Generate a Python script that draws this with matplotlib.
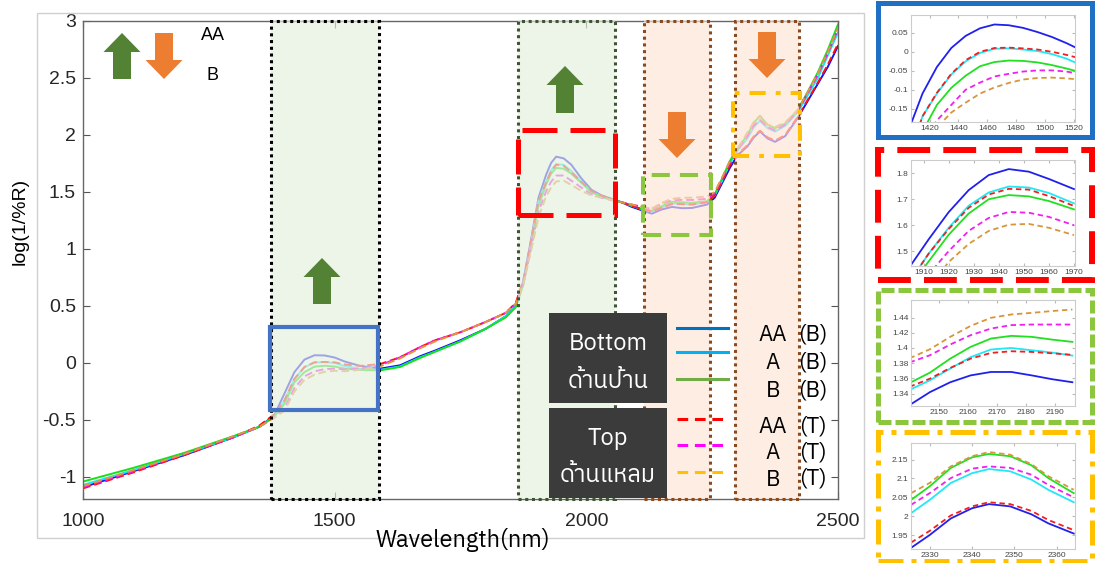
import matplotlib
matplotlib.use('Agg')
import matplotlib.pyplot as plt
from matplotlib import font_manager
from matplotlib.ft2font import FT2Font
from matplotlib.patches import Rectangle, Polygon
from matplotlib.lines import Line2D
from matplotlib.ticker import FuncFormatter

W, H = 1096, 563

# ---------------- main spectra ----------------
wl = [1000, 1100, 1200, 1300, 1350, 1380, 1400, 1420, 1440, 1460,
      1480, 1500, 1520, 1550, 1590, 1630, 1670, 1700, 1750, 1800,
      1840, 1860, 1875, 1890, 1905, 1920, 1930, 1940, 1955, 1970, 1990,
      2010, 2030, 2050, 2070, 2090, 2110, 2130, 2150, 2170, 2190,
      2210, 2240, 2255, 2270, 2285, 2300, 2320, 2333, 2345, 2360, 2375,
      2395, 2420, 2440, 2460, 2480, 2500]
aa_b = [-1.09, -0.95, -0.81, -0.65, -0.56, -0.46, -0.27, -0.08, 0.03, 0.068,
        0.066, 0.048, 0.013, -0.025, -0.05, -0.02, 0.06, 0.11, 0.2, 0.3,
        0.41, 0.5, 0.72, 1.08, 1.45, 1.65, 1.755, 1.81, 1.795, 1.74, 1.62,
        1.52, 1.47, 1.44, 1.41, 1.37, 1.34, 1.31, 1.347, 1.369, 1.358,
        1.36, 1.39, 1.45, 1.58, 1.71, 1.82, 1.9, 1.98, 2.032, 1.97, 1.94,
        1.99, 2.15, 2.3, 2.45, 2.6, 2.78]
a_b = [-1.07, -0.94, -0.80, -0.65, -0.56, -0.47, -0.33, -0.14, -0.037, 0.004,
       0.008, 0.0, -0.027, -0.05, -0.06, -0.03, 0.05, 0.1, 0.19, 0.3,
       0.41, 0.5, 0.7, 1.05, 1.42, 1.59, 1.69, 1.745, 1.737, 1.684, 1.59,
       1.5, 1.46, 1.43, 1.41, 1.38, 1.35, 1.33, 1.364, 1.399, 1.394,
       1.39, 1.41, 1.47, 1.6, 1.75, 1.86, 1.97, 2.07, 2.125, 2.06, 2.03,
       2.08, 2.2, 2.35, 2.5, 2.7, 2.9]
b_b = [-1.04, -0.92, -0.79, -0.64, -0.56, -0.47, -0.36, -0.17, -0.08, -0.032,
       -0.024, -0.031, -0.049, -0.06, -0.065, -0.035, 0.045, 0.1, 0.19, 0.3,
       0.4, 0.49, 0.69, 1.03, 1.38, 1.565, 1.66, 1.712, 1.704, 1.661, 1.58,
       1.5, 1.46, 1.43, 1.41, 1.38, 1.35, 1.335, 1.376, 1.414, 1.41,
       1.405, 1.42, 1.48, 1.62, 1.77, 1.88, 2.0, 2.11, 2.165, 2.09, 2.06,
       2.1, 2.22, 2.38, 2.55, 2.75, 2.97]
aa_t = [-1.1, -0.96, -0.81, -0.65, -0.55, -0.45, -0.33, -0.14, -0.035, 0.006,
        0.009, 0.006, -0.013, -0.025, -0.01, 0.05, 0.14, 0.2, 0.27, 0.36,
        0.44, 0.53, 0.73, 1.07, 1.42, 1.585, 1.68, 1.739, 1.73, 1.674, 1.59,
        1.51, 1.47, 1.44, 1.41, 1.38, 1.35, 1.33, 1.362, 1.394, 1.394,
        1.39, 1.41, 1.47, 1.6, 1.73, 1.83, 1.91, 1.99, 2.037, 1.98, 1.95,
        2.0, 2.16, 2.31, 2.46, 2.62, 2.8]
a_t = [-1.09, -0.95, -0.8, -0.65, -0.56, -0.48, -0.4, -0.22, -0.117, -0.073,
       -0.054, -0.049, -0.056, -0.05, -0.02, 0.05, 0.14, 0.2, 0.27, 0.36,
       0.44, 0.52, 0.7, 1.0, 1.33, 1.505, 1.59, 1.644, 1.645, 1.6, 1.54,
       1.48, 1.45, 1.43, 1.41, 1.39, 1.37, 1.35, 1.398, 1.427, 1.431,
       1.43, 1.44, 1.49, 1.62, 1.76, 1.87, 1.99, 2.085, 2.132, 2.07, 2.04,
       2.09, 2.21, 2.37, 2.53, 2.72, 2.93]
b_t = [-1.08, -0.94, -0.8, -0.64, -0.56, -0.48, -0.42, -0.25, -0.148, -0.102,
       -0.077, -0.068, -0.072, -0.06, -0.03, 0.04, 0.13, 0.19, 0.27, 0.36,
       0.44, 0.52, 0.69, 0.98, 1.28, 1.462, 1.54, 1.592, 1.6, 1.562, 1.51,
       1.47, 1.45, 1.43, 1.41, 1.39, 1.37, 1.355, 1.405, 1.441, 1.449,
       1.45, 1.46, 1.5, 1.63, 1.77, 1.88, 2.02, 2.115, 2.17, 2.09, 2.07,
       2.11, 2.22, 2.38, 2.54, 2.73, 2.94]

# ---------------- zoomed insets ----------------
ins1_wl = [1407, 1415, 1425, 1435, 1445, 1455, 1465, 1475, 1485, 1495, 1505, 1515, 1521]
ins1_aa_b = [-0.19, -0.11, -0.04, 0.01, 0.042, 0.062, 0.072, 0.07, 0.063, 0.052, 0.039, 0.023, 0.012]
ins1_a_b = [-0.26, -0.17, -0.11, -0.06, -0.025, -0.003, 0.008, 0.009, 0.006, 0.002, -0.006, -0.018, -0.028]
ins1_b_b = [-0.28, -0.21, -0.14, -0.095, -0.063, -0.038, -0.027, -0.023, -0.024, -0.028, -0.035, -0.044, -0.05]
ins1_aa_t = [-0.26, -0.17, -0.108, -0.058, -0.022, 0.0, 0.01, 0.011, 0.009, 0.006, 0.0, -0.008, -0.014]
ins1_a_t = [-0.3, -0.24, -0.181, -0.14, -0.1, -0.081, -0.065, -0.058, -0.052, -0.049, -0.049, -0.052, -0.056]
ins1_b_t = [-0.32, -0.26, -0.2, -0.16, -0.134, -0.11, -0.094, -0.082, -0.073, -0.069, -0.068, -0.07, -0.072]

ins2_wl = [1905, 1912, 1920, 1928, 1936, 1944, 1952, 1960, 1970]
ins2_aa_b = [1.447, 1.545, 1.65, 1.735, 1.793, 1.816, 1.806, 1.778, 1.739]
ins2_a_b = [1.39, 1.49, 1.59, 1.675, 1.726, 1.749, 1.745, 1.724, 1.684]
ins2_b_b = [1.37, 1.46, 1.563, 1.645, 1.7, 1.716, 1.711, 1.693, 1.661]
ins2_aa_t = [1.39, 1.49, 1.585, 1.667, 1.718, 1.74, 1.737, 1.712, 1.674]
ins2_a_t = [1.32, 1.41, 1.5, 1.578, 1.628, 1.651, 1.648, 1.632, 1.6]
ins2_b_t = [1.27, 1.36, 1.458, 1.528, 1.578, 1.602, 1.605, 1.59, 1.562]

ins3_wl = [2140, 2147, 2154, 2161, 2168, 2175, 2182, 2189, 2196]
ins3_aa_b = [1.325, 1.342, 1.355, 1.364, 1.3685, 1.3685, 1.364, 1.359, 1.355]
ins3_a_b = [1.345, 1.3575, 1.373, 1.388, 1.398, 1.4, 1.397, 1.394, 1.39]
ins3_b_b = [1.354, 1.3676, 1.386, 1.4014, 1.4124, 1.4159, 1.4146, 1.411, 1.408]
ins3_aa_t = [1.349, 1.3597, 1.3738, 1.386, 1.3935, 1.3957, 1.3948, 1.393, 1.391]
ins3_a_t = [1.381, 1.3904, 1.4045, 1.4168, 1.4255, 1.43, 1.4308, 1.4308, 1.4308]
ins3_b_t = [1.3865, 1.3983, 1.4146, 1.429, 1.4396, 1.444, 1.4461, 1.4485, 1.4505]

ins4_wl = [2325.6, 2330, 2335, 2340, 2344, 2349, 2354, 2358, 2364]
ins4_aa_b = [1.916, 1.95, 1.994, 2.021, 2.032, 2.026, 2.005, 1.981, 1.954]
ins4_a_b = [2.008, 2.043, 2.088, 2.114, 2.125, 2.119, 2.097, 2.07, 2.037]
ins4_b_b = [2.043, 2.079, 2.128, 2.156, 2.165, 2.159, 2.135, 2.101, 2.061]
ins4_aa_t = [1.93, 1.961, 2.002, 2.026, 2.037, 2.032, 2.014, 1.99, 1.963]
ins4_a_t = [2.03, 2.061, 2.101, 2.126, 2.132, 2.128, 2.11, 2.083, 2.05]
ins4_b_t = [2.061, 2.088, 2.132, 2.159, 2.17, 2.163, 2.138, 2.106, 2.07]

# shaded wavelength bands: (start, end, kind)
bands = [(1373, 1588, 'up'), (1864, 2057, 'up'), (2115, 2246, 'down'), (2295, 2423, 'down')]

legend_names = ['AA', 'A', 'B', 'AA', 'A', 'B']
legend_tags = ['(B)', '(B)', '(B)', '(T)', '(T)', '(T)']


def find_thai_font():
    names = []
    for f in font_manager.fontManager.ttflist:
        try:
            if 0x0E14 in FT2Font(f.fname).get_charmap():
                names.append(f.name)
        except Exception:
            continue
    for n in names:
        if 'Sans' in n and 'Mono' not in n:
            return n
    return names[0] if names else None


thai = find_thai_font()
latin = 'Liberation Sans'
thai_fam = [thai, 'DejaVu Sans'] if thai else ['DejaVu Sans']


def fx(x):
    return x / W


def fy(y):
    return 1 - y / H


fig = plt.figure(figsize=(W / 100, H / 100), dpi=100)
fig.patch.set_facecolor('white')

# light grey frame round the main panel
fig.add_artist(Rectangle((fx(37), fy(538)), (864 - 37) / W, (538 - 13) / H, fill=False,
                         edgecolor='#cfcfcf', lw=1, transform=fig.transFigure))

ax = fig.add_axes([fx(83), fy(499), 755 / W, 478 / H])
main_styles = [
    (aa_b, '#1414f0', '-'), (a_b, '#14e6f5', '-'), (b_b, '#18e018', '-'),
    (aa_t, '#ff1010', (0, (4, 2))), (a_t, '#f018f0', (0, (4, 2))), (b_t, '#dc9a40', (0, (4, 2))),
]
for vals, col, ls in main_styles:
    ax.plot(wl, vals, color=col, ls=ls, lw=1.4, zorder=2)

ax.set_xlim(1000, 2500)
ax.set_ylim(-1.193, 3)
ax.set_xticks([1000, 1500, 2000, 2500])
ax.set_yticks([-1, -0.5, 0, 0.5, 1, 1.5, 2, 2.5, 3])
ax.yaxis.set_major_formatter(FuncFormatter(lambda v, p: '{:g}'.format(v)))
ax.tick_params(direction='in', length=5, top=True, right=True, labelsize=14,
               colors='#555555', labelcolor='#262626')
ax.tick_params(axis='x', pad=10)
ax.tick_params(axis='y', pad=5)
for lab in ax.get_xticklabels() + ax.get_yticklabels():
    lab.set_fontfamily(latin)
for sp in ax.spines.values():
    sp.set_color('#666666')
    sp.set_linewidth(1)

# bands
band_face = {'up': '#e5efdd', 'down': '#fce4d5'}
band_edge = ['#000000', '#3f5434', '#8a4a1e', '#8a4a1e']
tr = ax.get_xaxis_transform()
for (x0, x1, kind), ec in zip(bands, band_edge):
    ax.add_patch(Rectangle((x0, 0), x1 - x0, 1, transform=tr, facecolor=band_face[kind],
                           alpha=0.66, edgecolor='none', zorder=3))
    ax.add_patch(Rectangle((x0, 0), x1 - x0, 1, transform=tr, fill=False, edgecolor=ec,
                           lw=2.2, ls=(0, (1, 1.2)), zorder=4, clip_on=False))

# zoom boxes in data coords
ax.add_patch(Rectangle((1371, -0.412), 1586 - 1371, 0.316 + 0.412, fill=False,
                       edgecolor='#4472c4', lw=3, zorder=5))
ax.add_patch(Rectangle((1864, 1.298), 2057 - 1864, 2.044 - 1.298, fill=False,
                       edgecolor='#ff0000', lw=3.6, ls=(0, (7, 2.6)), zorder=5))
ax.add_patch(Rectangle((2113, 1.123), 2248 - 2113, 1.649 - 1.123, fill=False,
                       edgecolor='#8cc63f', lw=2.9, ls=(0, (4.5, 2.5)), zorder=5))
ax.add_patch(Rectangle((2291, 1.816), 2424 - 2291, 2.368 - 1.816, fill=False,
                       edgecolor='#ffc000', lw=2.9, ls=(0, (4, 2.5, 1.2, 2.5)), zorder=5))


def arrow(xc, ytop, ybot, up, color, shaft=18, head=37, headlen=19):
    hw, sw = head / 2, shaft / 2
    if up:
        pts = [(xc, ytop), (xc + hw, ytop + headlen), (xc + sw, ytop + headlen), (xc + sw, ybot),
               (xc - sw, ybot), (xc - sw, ytop + headlen), (xc - hw, ytop + headlen)]
    else:
        pts = [(xc, ybot), (xc + hw, ybot - headlen), (xc + sw, ybot - headlen), (xc + sw, ytop),
               (xc - sw, ytop), (xc - sw, ybot - headlen), (xc - hw, ybot - headlen)]
    fig.add_artist(Polygon([(fx(a), fy(b)) for a, b in pts], closed=True, facecolor=color,
                           edgecolor='none', transform=fig.transFigure, zorder=10))


green_arrow, orange_arrow = '#548235', '#ed7d31'
arrow(122, 33, 79, True, green_arrow)
arrow(164, 33, 79, False, orange_arrow)
arrow(322, 258, 304, True, green_arrow)
arrow(565, 66, 113, True, green_arrow)
arrow(677, 112, 158, False, orange_arrow)
arrow(767, 32, 78, False, orange_arrow)
fig.text(fx(213), fy(36), 'AA', fontsize=13, family=latin, ha='center', va='center', zorder=11)
fig.text(fx(212), fy(76), 'B', fontsize=13, family=latin, ha='center', va='center', zorder=11)

# axis labels
fig.text(fx(463), fy(540), 'Wavelength(nm)', fontsize=17, family=thai_fam, ha='center', va='center')
fig.text(fx(20), fy(221), 'log(1/%R)', fontsize=14, family=latin, rotation=90, ha='center', va='center')

# legend
for ytop, ybot, title, thai_txt in [(313, 403, 'Bottom', 'ด้านป้าน'), (408, 498, 'Top', 'ด้านแหลม')]:
    fig.add_artist(Rectangle((fx(549), fy(ybot)), (667 - 549) / W, (ybot - ytop) / H,
                             facecolor='#3b3b3b', edgecolor='none', transform=fig.transFigure, zorder=10))
    fig.text(fx(608), fy(ytop + 30), title, color='white', fontsize=17, family=thai_fam,
             ha='center', va='center', zorder=11)
    fig.text(fx(608), fy(ytop + 68), thai_txt, color='white', fontsize=17, family=thai_fam,
             ha='center', va='center', zorder=11)

leg_cols = ['#0070c0', '#00b0f0', '#70ad47', '#ff0000', '#ff00ff', '#ffc000']
leg_ys = [328, 352, 379, 419, 445, 472]
lab_ys = [335, 363, 391, 427, 453, 480]
for i in range(6):
    ls = '-' if i < 3 else (0, (3.5, 2.2))
    fig.add_artist(Line2D([fx(677), fx(728)], [fy(leg_ys[i]), fy(leg_ys[i])], color=leg_cols[i],
                          lw=2.2, ls=ls, transform=fig.transFigure, zorder=11))
    fig.text(fx(773), fy(lab_ys[i]), legend_names[i], fontsize=16, family=thai_fam,
             ha='center', va='center', zorder=11)
    fig.text(fx(813), fy(lab_ys[i] - 1), legend_tags[i], fontsize=16, family=thai_fam,
             ha='center', va='center', zorder=11)

# insets
inset_styles = [('#2020ee', '-'), ('#20e8f4', '-'), ('#20e020', '-'),
                ('#f02020', (0, (3, 2))), ('#f020f0', (0, (3, 2))), ('#d8963c', (0, (3, 2)))]
insets = [
    (15, 122, ins1_wl, [ins1_aa_b, ins1_a_b, ins1_b_b, ins1_aa_t, ins1_a_t, ins1_b_t],
     (1407, 1521), (-0.185, 0.097), [1420, 1440, 1460, 1480, 1500, 1520], [-0.15, -0.1, -0.05, 0, 0.05]),
    (160, 266, ins2_wl, [ins2_aa_b, ins2_a_b, ins2_b_b, ins2_aa_t, ins2_a_t, ins2_b_t],
     (1905, 1970.4), (1.443, 1.851), [1910, 1920, 1930, 1940, 1950, 1960, 1970], [1.5, 1.6, 1.7, 1.8]),
    (300, 406, ins3_wl, [ins3_aa_b, ins3_a_b, ins3_b_b, ins3_aa_t, ins3_a_t, ins3_b_t],
     (2140.5, 2196.9), (1.3238, 1.463), [2150, 2160, 2170, 2180, 2190], [1.34, 1.36, 1.38, 1.4, 1.42, 1.44]),
    (443, 549, ins4_wl, [ins4_aa_b, ins4_a_b, ins4_b_b, ins4_aa_t, ins4_a_t, ins4_b_t],
     (2325.6, 2364.3), (1.913, 2.194), [2330, 2340, 2350, 2360], [1.95, 2, 2.05, 2.1, 2.15]),
]
for top, bot, xs, ys, xl, yl, xt, yt in insets:
    iax = fig.add_axes([fx(911), fy(bot), 164 / W, (bot - top) / H])
    for vals, (col, ls) in zip(ys, inset_styles):
        iax.plot(xs, vals, color=col, ls=ls, lw=1.3)
    iax.set_xlim(*xl)
    iax.set_ylim(*yl)
    iax.set_xticks(xt)
    iax.set_yticks(yt)
    iax.yaxis.set_major_formatter(FuncFormatter(lambda v, p: '{:g}'.format(round(v, 3))))
    iax.tick_params(direction='in', length=2, labelsize=6, colors='#bbbbbb',
                    labelcolor='#444444', pad=2, top=True, right=True)
    for lab in iax.get_xticklabels() + iax.get_yticklabels():
        lab.set_fontfamily(latin)
    for sp in iax.spines.values():
        sp.set_color('#cccccc')
        sp.set_linewidth(0.8)

# inset frames
frames = [(3, 137, '#1f6fc4', '-', 3.6), (150, 280, '#ff0000', (0, (5.5, 2.2)), 4.3),
          (290, 422, '#8cc63f', (0, (2.6, 0.8)), 3.6), (432, 561, '#ffc000', (0, (5, 1.6, 1, 1.6)), 3.6)]
for top, bot, col, ls, lw in frames:
    fig.add_artist(Rectangle((fx(878), fy(bot)), (1092 - 878) / W, (bot - top) / H, fill=False,
                             edgecolor=col, lw=lw, ls=ls, transform=fig.transFigure, zorder=5))

fig.savefig('out.png', dpi=100)
